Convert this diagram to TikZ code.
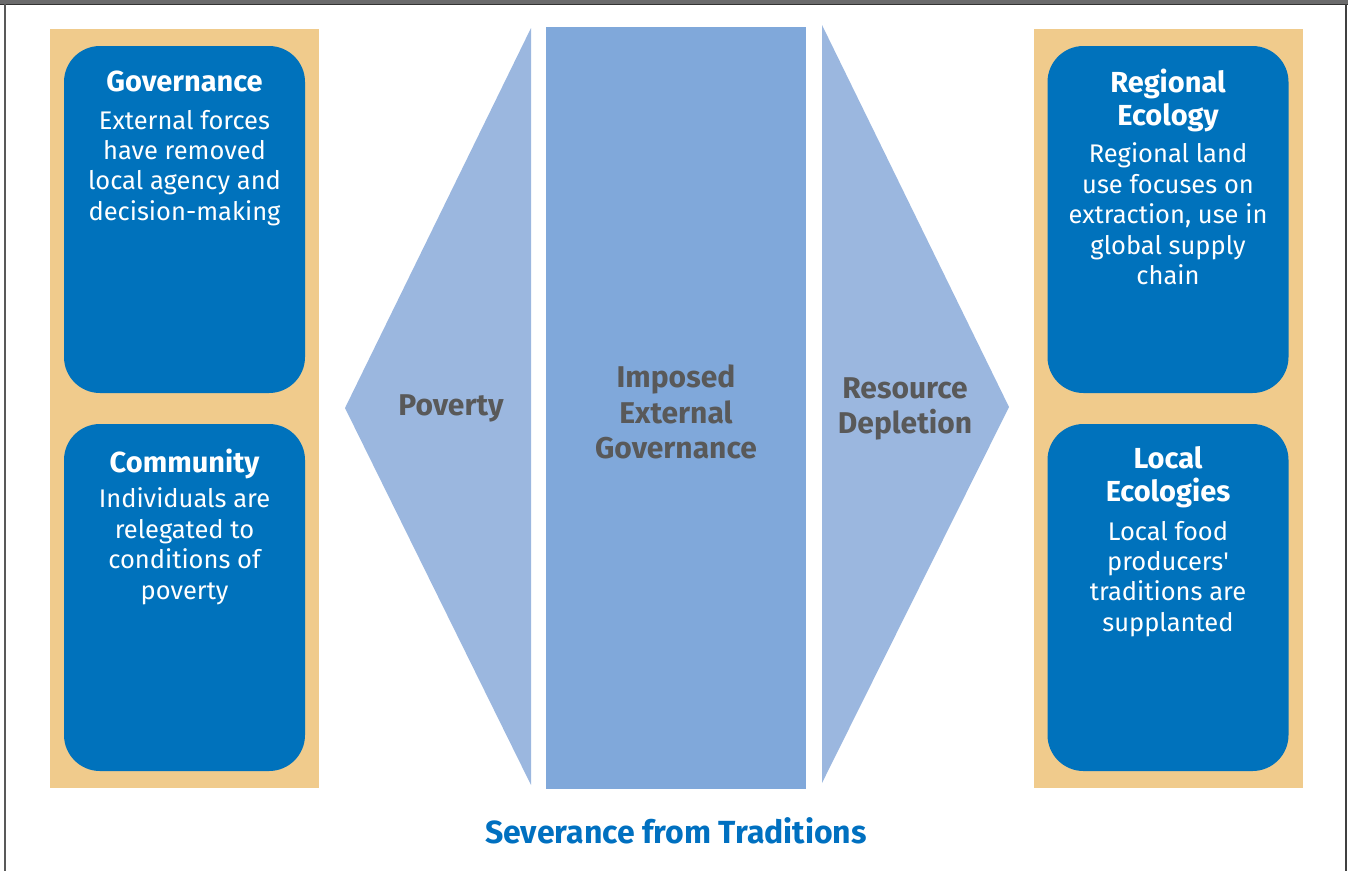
\documentclass[tikz,border=0pt]{standalone}
\usepackage{fontspec}
\setmainfont{Fira Sans}
\usetikzlibrary{positioning}

\definecolor{tan}{HTML}{F0CB8C}
\definecolor{boxblue}{HTML}{0072BC}
\definecolor{sideblue}{HTML}{9BB7DF}
\definecolor{midblue}{HTML}{80A8DA}
\definecolor{labelgray}{HTML}{595959}
\definecolor{titleblue}{HTML}{0070C0}
\definecolor{framegray}{HTML}{6B6B6C}

\newcommand{\headfont}{\fontsize{29}{33}\selectfont\bfseries}
\newcommand{\bodyfont}{\fontsize{25.5}{30.4}\selectfont}
\newcommand{\midfont}{\fontsize{30}{35.5}\selectfont\bfseries}

\tikzset{
  column/.style={fill=tan, draw=none},
  card/.style={fill=boxblue, draw=none, rounded corners=36pt,
    minimum width=241pt, minimum height=347pt, inner sep=0pt},
  cardhead/.style={anchor=north, align=center, text=white, font=\headfont, inner sep=0pt},
  cardtext/.style={anchor=north, align=center, text=white, font=\bodyfont, inner sep=0pt},
  flowlabel/.style={align=center, text=labelgray, font=\midfont, inner sep=0pt}
}

\begin{document}
\begin{tikzpicture}[x=1pt, y=-1pt]
    \useasboundingbox (0, 0) rectangle (1348, 871);

    % Frame
    \fill [framegray] (0, 0) rectangle (1348, 4);
    \draw [line width=1.5pt, black!80] (0, 4.5) -- (1348, 4.5);
    \draw [line width=1.5pt, black!65] (5, 4) -- (5, 871);
    \draw [line width=1.5pt, black!75] (1346, 4) -- (1346, 871);

    % Columns
    \foreach \x in {50, 1034} {
      \fill [column] (\x, 29) rectangle ++(269, 759);
    }

    % Left cards
    \node [card] (gov) at (184.5, 219.5) {};
    \node [cardhead] (govhead) at ([yshift=-25pt]gov.north) {Governance};
    \node [cardtext] (govtext) at ([yshift=-64pt]gov.north)
          {External forces\\have removed\\local agency and\\decision-making};

    \node [card] (com) at (184.5, 597.5) {};
    \node [cardhead] (comhead) at ([yshift=-25pt]com.north) {Community};
    \node [cardtext] (comtext) at ([yshift=-64pt]com.north)
          {Individuals are\\relegated to\\conditions of\\poverty};

    % Right cards
    \node [card] (reg) at (1168, 219.5) {};
    \node [cardhead] (reghead) at ([yshift=-22.5pt]reg.north) {Regional\\Ecology};
    \node [cardtext] (regtext) at ([yshift=-97pt]reg.north)
          {Regional land\\use focuses on\\extraction, use in\\global supply\\chain};

    \node [card] (loc) at (1168, 597.5) {};
    \node [cardhead] (lochead) at ([yshift=-22.5pt]loc.north) {Local\\Ecologies};
    \node [cardtext] (loctext) at ([yshift=-97pt]loc.north)
          {Local food\\producers\textquotesingle\\traditions are\\supplanted};

    % Middle
    \fill [sideblue] (531, 28) -- (345, 408) -- (531, 785) -- cycle;
    \fill [midblue] (546, 27) rectangle (806, 789);
    \fill [sideblue] (822, 25) -- (1009, 407) -- (822, 783) -- cycle;

    \node [flowlabel] (poverty) at (451, 408) {Poverty};
    \node [flowlabel] (imposed) at (676, 412) {Imposed\\External\\Governance};
    \node [flowlabel] (depletion) at (905, 409) {Resource\\Depletion};

    % Title
    \node [text=titleblue, font=\fontsize{32}{36}\selectfont\bfseries] (title)
          at (676, 831) {Severance from Traditions};
\end{tikzpicture}
\end{document}
